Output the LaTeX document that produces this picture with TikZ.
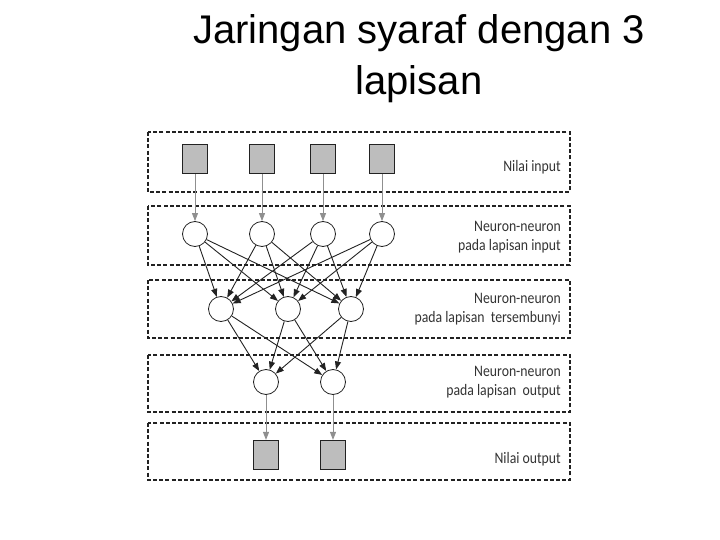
\documentclass[tikz,border=0pt]{standalone}
\usepackage{fontspec}
\setmainfont{Liberation Sans}
\newfontfamily\labelfont[FakeStretch=0.86]{Carlito}
\usetikzlibrary{arrows.meta,calc,positioning}
\definecolor{NetInk}{HTML}{222222}
\definecolor{NetFill}{HTML}{BDBDBD}
\definecolor{NetFeed}{HTML}{8F8F8F}
\definecolor{NetText}{HTML}{333333}
\tikzset{
  layerbox/.style={draw=NetInk, line width=1.2pt, dash pattern=on 4pt off 2.2pt},
  unit/.style={draw=NetInk, line width=1.2pt, fill=NetFill, minimum width=25pt, minimum height=29pt, inner sep=0pt},
  neuron/.style={draw=NetInk, line width=0.8pt, fill=white, circle, minimum size=25pt, inner sep=0pt},
  note/.style={font=\labelfont\fontsize{16}{19}\selectfont, text=NetText, anchor=base east, align=right, inner sep=0pt},
  link/.style={-{Triangle[length=8pt,width=6pt]}, draw=NetInk, line width=0.9pt},
  feed/.style={link, draw=NetFeed},
}
\begin{document}
\begin{tikzpicture}[x=1pt,y=-1pt]
  \useasboundingbox (0,0) rectangle (720,540);
  % Title (base anchor sits on the last line)
  \node[font=\fontsize{40}{51}\selectfont, align=center, anchor=base, inner sep=0pt] (title) at (419,95)
    {Jaringan syaraf dengan 3\\lapisan};
  % Layers
  \draw[layerbox] (148,132) rectangle (570,192);
  \draw[layerbox] (148,206) rectangle (570,265);
  \draw[layerbox] (148,280) rectangle (570,338);
  \draw[layerbox] (148,355) rectangle (570,412);
  \draw[layerbox] (148,423) rectangle (570,480);
  % Layer names
  \node[note] (n1) at (561,172) {Nilai input};
  \node[note] (n2) at (561,250) {Neuron-neuron\\pada lapisan input};
  \node[note] (n3) at (561,322) {Neuron-neuron\\pada lapisan\ \ tersembunyi};
  \node[note] (n4) at (561,395) {Neuron-neuron\\pada lapisan\ \ output};
  \node[note] (n5) at (561,463) {Nilai output};
  % Units and neurons
  \foreach \k/\x in {1/195,2/262,3/323,4/382}{
    \node[unit] (x\k) at (\x,159) {};
    \node[neuron] (i\k) at (\x,234) {};
  }
  \foreach \k/\x in {1/221,2/288,3/351}
    \node[neuron] (h\k) at (\x,309) {};
  \foreach \k/\x in {1/266,2/333}{
    \node[neuron] (o\k) at (\x,382) {};
    \node[unit] (y\k) at (\x,455) {};
  }
  % Connections
  \foreach \k in {1,...,4}
    \draw[feed] (x\k) -- (i\k);
  \foreach \a in {1,...,4}
    \foreach \b in {1,2,3}
      \draw[link] (i\a) -- (h\b);
  \foreach \a in {1,2,3}
    \foreach \b in {1,2}
      \draw[link] (h\a) -- (o\b);
  \foreach \k in {1,2}
    \draw[feed] (o\k) -- (y\k);
\end{tikzpicture}
\end{document}
